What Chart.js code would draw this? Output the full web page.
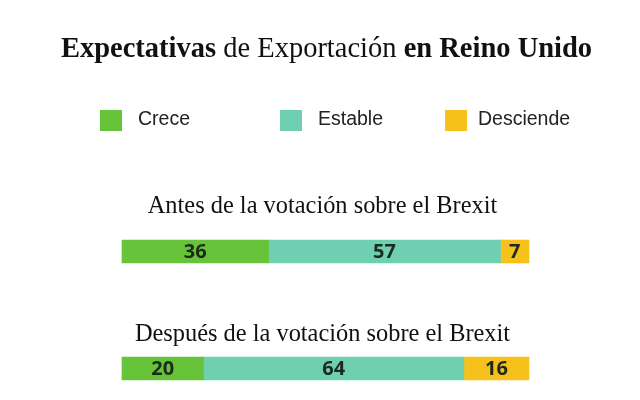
<!DOCTYPE html>
<html>
<head>
<meta charset="utf-8">
<script src="https://cdn.jsdelivr.net/npm/chart.js@4"></script>
<style>
  html, body { margin: 0; padding: 0; background: #fff; }
  #wrap { width: 640px; height: 400px; }
</style>
</head>
<body>
<div id="wrap"><canvas id="myChart" width="640" height="400"></canvas></div>
<script>
const categorias = ['Antes de la votación sobre el Brexit', 'Después de la votación sobre el Brexit'];
const series = ['Crece', 'Estable', 'Desciende'];
const crece = [36, 20];
const estable = [57, 64];
const desciende = [7, 16];
const colores = ['#66c33a', '#6ecfb1', '#f6c11b'];

const serif = '"Liberation Serif", serif';
const sans = '"Liberation Sans", Arial, sans-serif';

// titulo, leyenda, etiquetas de categoria y valores
const textos = {
  id: 'textos',
  afterDatasetsDraw(chart) {
    const ctx = chart.ctx;
    ctx.save();

    // titulo con partes en negrita
    const partes = [
      ['Expectativas', true], [' de Exportación ', false], ['en Reino Unido', true]
    ];
    const fontOf = b => (b ? 'bold ' : '') + '28.5px ' + serif;
    let total = 0;
    partes.forEach(p => { ctx.font = fontOf(p[1]); total += ctx.measureText(p[0]).width; });
    let x = 326.5 - total / 2;
    ctx.fillStyle = '#111';
    ctx.textBaseline = 'alphabetic';
    ctx.textAlign = 'left';
    partes.forEach(p => {
      ctx.font = fontOf(p[1]);
      ctx.fillText(p[0], x, 57);
      x += ctx.measureText(p[0]).width;
    });

    // leyenda
    const posLeyenda = [100, 280, 445];
    ctx.font = '19.5px ' + sans;
    ctx.textBaseline = 'middle';
    chart.data.datasets.forEach((ds, i) => {
      const lx = posLeyenda[i];
      ctx.fillStyle = ds.backgroundColor;
      ctx.fillRect(lx, 110, 22, 21);
      ctx.fillStyle = '#222';
      ctx.fillText(ds.label, lx + (i === 2 ? 33 : 38), 120);
    });

    // etiquetas de categoria sobre cada barra
    const yScale = chart.scales.y;
    ctx.font = '24.4px ' + serif;
    ctx.textAlign = 'center';
    ctx.textBaseline = 'alphabetic';
    ctx.fillStyle = '#111';
    const offsets = [-38.5, -27.5];
    chart.data.labels.forEach((lab, i) => {
      ctx.fillText(lab, 322.5, yScale.getPixelForValue(i) + offsets[i]);
    });

    // valores dentro de los segmentos
    ctx.font = 'bold 20px "Open Sans", sans-serif';
    ctx.textBaseline = 'middle';
    ctx.fillStyle = '#1d2a1d';
    chart.data.datasets.forEach((ds, i) => {
      chart.getDatasetMeta(i).data.forEach((bar, j) => {
        const cx = (bar.x + bar.base) / 2;
        ctx.fillText(String(ds.data[j]), cx, bar.y + 1);
      });
    });
    ctx.restore();
  }
};

const config = {
  type: 'bar',
  data: {
    labels: categorias,
    datasets: [
      { label: series[0], data: crece, backgroundColor: colores[0], clip: false },
      { label: series[1], data: estable, backgroundColor: colores[1], clip: false },
      { label: series[2], data: desciende, backgroundColor: colores[2], clip: false }
    ]
  },
  options: {
    indexAxis: 'y',
    responsive: false,
    animation: false,
    layout: { padding: { left: 122, right: 111, top: 251.5, bottom: 31.5 } },
    datasets: { bar: { barThickness: 23, borderWidth: 0 } },
    scales: {
      x: { stacked: true, min: 0, max: 100, display: false },
      y: { stacked: true, display: false, offset: false }
    },
    plugins: {
      legend: { display: false },
      tooltip: { enabled: false }
    }
  },
  plugins: [textos]
};

new Chart(document.getElementById('myChart'), config);
</script>
</body>
</html>
